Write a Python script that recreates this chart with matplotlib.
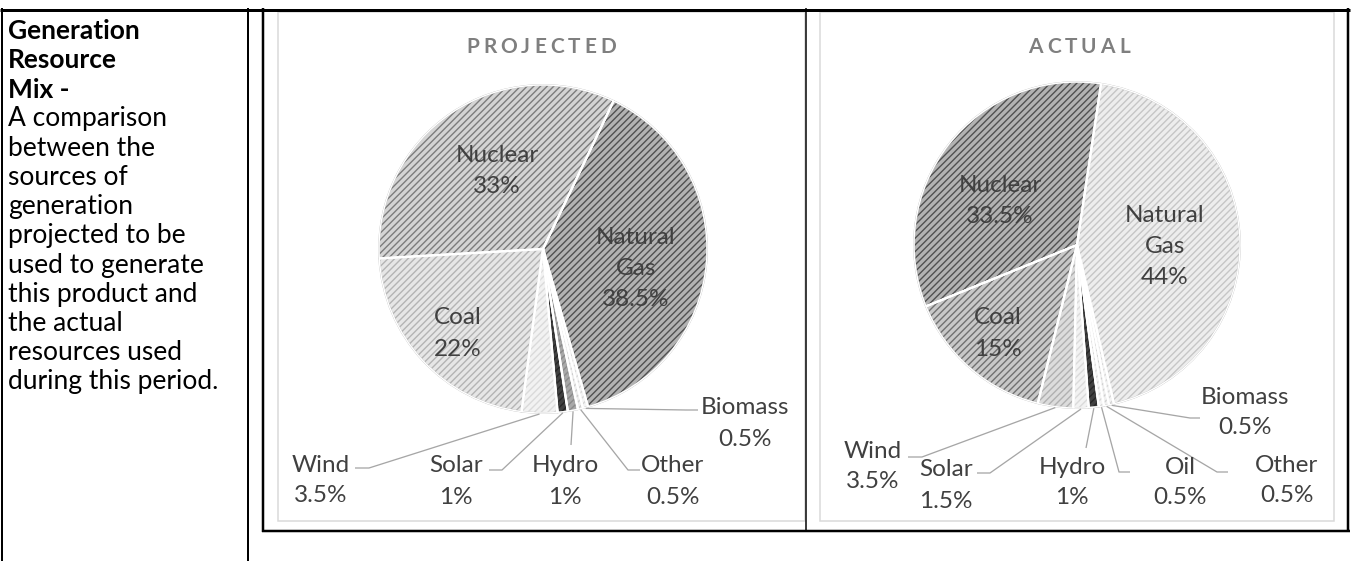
import matplotlib
matplotlib.use('Agg')
import matplotlib.pyplot as plt
from matplotlib.patches import Rectangle
from matplotlib.font_manager import FontProperties
import numpy as np

plt.rcParams['font.family'] = ['Lato', 'DejaVu Sans']
plt.rcParams['hatch.linewidth'] = 1.0

# ---------------- data ----------------
proj_names = ['Natural Gas', 'Biomass', 'Other', 'Hydro', 'Solar', 'Wind', 'Coal', 'Nuclear']
proj_values = [38.5, 0.5, 0.5, 1, 1, 3.5, 22, 33]

act_names = ['Natural Gas', 'Biomass', 'Other', 'Oil', 'Hydro', 'Solar', 'Wind', 'Coal', 'Nuclear']
act_values = [44, 0.5, 0.5, 0.5, 1, 1.5, 3.5, 15, 33.5]

side_bold = ['Generation', 'Resource', 'Mix -']
side_text = ['A comparison', 'between the', 'sources of', 'generation',
             'projected to be', 'used to generate', 'this product and',
             'the actual', 'resources used', 'during this period.']

titles = ['PROJECTED', 'ACTUAL']

# ---------------- layout / style ----------------
W, H = 1351, 561
PX = 0.72  # points per pixel at dpi 100

fig = plt.figure(figsize=(W / 100, H / 100), dpi=100)
ax = fig.add_axes([0, 0, 1, 1])


def Y(py):
    return H - py


LABEL_COLOR = '#404040'
LEADER_COLOR = '#a6a6a6'

proj_style = {
    'Natural Gas': ('#b2b2b2', '#505050'),
    'Biomass': ('#f4f4f4', '#d6d6d6'),
    'Other': ('#eeeeee', '#cccccc'),
    'Hydro': ('#a8a8a8', '#8a8a8a'),
    'Solar': ('#404040', '#262626'),
    'Wind': ('#f2f2f2', '#dadada'),
    'Coal': ('#e6e6e6', '#b4b4b4'),
    'Nuclear': ('#d4d4d4', '#7c7c7c'),
}
act_style = {
    'Natural Gas': ('#ededed', '#c6c6c6'),
    'Biomass': ('#f4f4f4', '#d6d6d6'),
    'Other': ('#f0f0f0', '#d0d0d0'),
    'Oil': ('#f4f4f4', '#d6d6d6'),
    'Hydro': ('#404040', '#262626'),
    'Solar': ('#f2f2f2', '#dadada'),
    'Wind': ('#dcdcdc', '#b0b0b0'),
    'Coal': ('#c8c8c8', '#707070'),
    'Nuclear': ('#b2b2b2', '#505050'),
}

proj_inside = {'Nuclear': (497, 155), 'Natural Gas': (636, 237), 'Coal': (458, 318)}
act_inside = {'Nuclear': (1000, 185), 'Natural Gas': (1165, 215), 'Coal': (998, 318)}

proj_outside = {
    'Biomass': ((745, 408), [(686, 410), (698, 410)]),
    'Other': ((673, 466), [(628, 470), (640, 470)]),
    'Hydro': ((565, 466), [(571, 445)]),
    'Solar': ((456, 466), [(502, 470), (489, 470)]),
    'Wind': ((321, 465), [(369, 468), (355, 468)]),
}
act_outside = {
    'Biomass': ((1245, 397), [(1190, 418), (1200, 418)]),
    'Other': ((1287, 465), [(1217, 472), (1228, 472)]),
    'Oil': ((1180, 467), [(1119, 472), (1130, 472)]),
    'Hydro': ((1072, 467), [(1086, 448)]),
    'Solar': ((946, 470), [(990, 473), (977, 473)]),
    'Wind': ((873, 451), [(922, 457), (908, 457)]),
}

LABEL_FS = 17.5
LINE_GAP = 31
SIDE_FS = 19


def fmt(v):
    return f'{v:g}%'


def draw_pie(names, values, center, r, start_cw, style, inside, outside):
    cx, cy = center[0], Y(center[1])
    n = len(values)
    kw = dict(startangle=90 - start_cw, counterclock=False, center=(cx, cy),
              radius=r, explode=[0.018] * n, frame=True)
    base, _ = ax.pie(values, colors=[style[k][0] for k in names],
                     wedgeprops=dict(linewidth=0), **kw)
    hat, _ = ax.pie(values, colors=['none'] * n, wedgeprops=dict(linewidth=0), **kw)
    for w, k in zip(hat, names):
        w.set_facecolor('none')
        w.set_edgecolor(style[k][1])
        if hasattr(w, 'set_hatchcolor'):
            w.set_hatchcolor(style[k][1])
        w.set_hatch('/////')
        w.set_linewidth(0)
    rim, _ = ax.pie(values, colors=['none'] * n,
                    wedgeprops=dict(linewidth=1.2, edgecolor='#b8b8b8'), **kw)
    for w in rim:
        w.set_facecolor('none')
    edge, _ = ax.pie(values, colors=['none'] * n,
                     wedgeprops=dict(linewidth=1.0, edgecolor='white'), **kw)
    for w in edge:
        w.set_facecolor('none')
    # white radial separators (cover rim along the straight edges)
    for w in edge:
        wx, wy = w.center
        for t in (w.theta1, w.theta2):
            tr = np.deg2rad(t)
            ax.plot([wx, wx + w.r * np.cos(tr)], [wy, wy + w.r * np.sin(tr)],
                    color='white', lw=1.6, solid_capstyle='butt', zorder=2.5)

    for w, k, v in zip(base, names, values):
        lines = k.split() + [fmt(v)]
        if k in inside:
            x0, y0 = inside[k]
            for i, s in enumerate(lines):
                ax.text(x0, Y(y0 + i * LINE_GAP), s, ha='center', va='center',
                        fontsize=LABEL_FS, color=LABEL_COLOR, zorder=5)
        elif k in outside:
            (tx, ty), path = outside[k]
            th = np.deg2rad((w.theta1 + w.theta2) / 2)
            wx, wy = w.center
            sx, sy = wx + (w.r + 1) * np.cos(th), wy + (w.r + 1) * np.sin(th)
            xs = [sx] + [p[0] for p in path]
            ys = [sy] + [Y(p[1]) for p in path]
            ax.plot(xs, ys, color=LEADER_COLOR, lw=1.3 * PX, zorder=4,
                    solid_capstyle='butt')
            ax.text(tx, Y(ty), k, ha='center', va='center',
                    fontsize=LABEL_FS, color=LABEL_COLOR, zorder=5)
            ax.text(tx, Y(ty + LINE_GAP), fmt(v), ha='center', va='center',
                    fontsize=LABEL_FS, color=LABEL_COLOR, zorder=5)


draw_pie(proj_names, proj_values, (543, 249), 164, 25.5, proj_style,
         proj_inside, proj_outside)
draw_pie(act_names, act_values, (1077, 245), 163, 8.5, act_style,
         act_inside, act_outside)

# ---------------- spaced titles ----------------
renderer = fig.canvas.get_renderer()


def spaced_title(xc, yc, s, spacing):
    fp = FontProperties(family=['Lato', 'DejaVu Sans'], weight='bold', size=15)
    widths = [renderer.get_text_width_height_descent(c, fp, ismath=False)[0] for c in s]
    total = sum(widths) + spacing * (len(s) - 1)
    x = xc - total / 2
    for c, wdt in zip(s, widths):
        ax.text(x, Y(yc), c, ha='left', va='center', fontproperties=fp,
                color='#7f7f7f', zorder=5)
        x += wdt + spacing


spaced_title(541, 47, titles[0], 4.0)
spaced_title(1079, 47, titles[1], 4.0)

# ---------------- side text ----------------
y = 31
for s in side_bold:
    ax.text(8, Y(y), s, ha='left', va='center', fontsize=SIDE_FS, fontweight='bold',
            color='black')
    y += 29.25
for s in side_text:
    ax.text(8, Y(y), s, ha='left', va='center', fontsize=SIDE_FS, color='black')
    y += 29.25


# ---------------- table frame ----------------
def seg(x0, y0, x1, y1, lw, color='black'):
    ax.plot([x0, x1], [Y(y0), Y(y1)], color=color, lw=lw * PX,
            solid_capstyle='butt', zorder=6)


seg(0, 9.5, 1350, 9.5, 3)
seg(1.5, 8, 1.5, 561, 2)
seg(248, 8, 248, 561, 2)
seg(263, 8, 263, 532, 2.5)
seg(806, 8, 806, 532, 1.5)
seg(1348, 8, 1348, 532, 2.5)
seg(262, 530.5, 1349.5, 530.5, 2.5)

for (x0, x1) in [(278, 805), (820, 1334)]:
    ax.add_patch(Rectangle((x0, Y(521)), x1 - x0, 521 - 11.5, fill=False,
                           edgecolor='#d9d9d9', lw=1.5 * PX, zorder=3))

ax.set_xlim(0, W)
ax.set_ylim(0, H)
ax.set_aspect('auto')
ax.axis('off')

fig.savefig('out.png', dpi=100)
